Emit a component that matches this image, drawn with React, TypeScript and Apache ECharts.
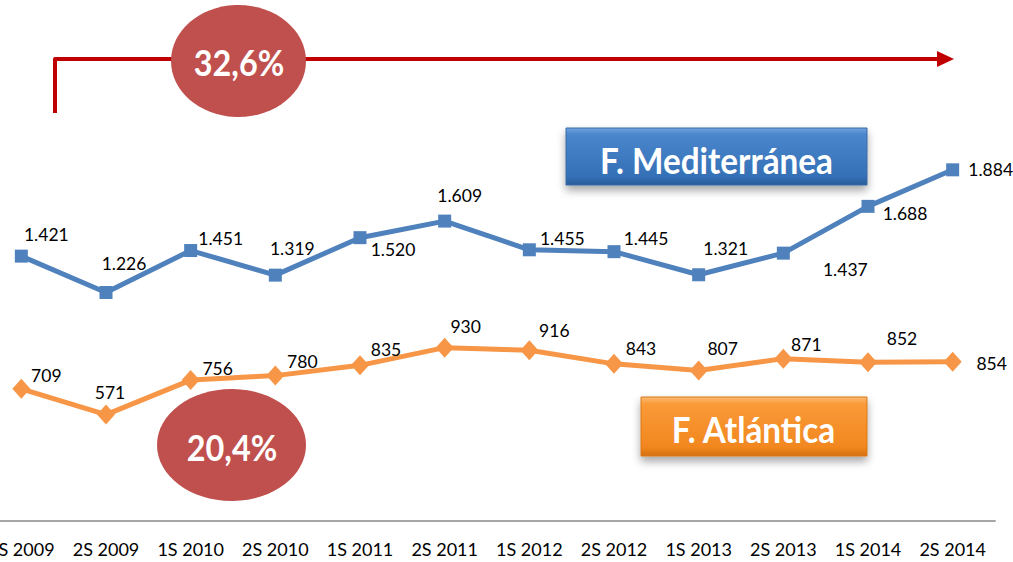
import React, { useEffect, useRef } from "react";
import * as echarts from "echarts";

const categories = ["1S 2009", "2S 2009", "1S 2010", "2S 2010", "1S 2011", "2S 2011", "1S 2012", "2S 2012", "1S 2013", "2S 2013", "1S 2014", "2S 2014"];
const mediterranea = [1421, 1226, 1451, 1319, 1520, 1609, 1455, 1445, 1321, 1437, 1688, 1884];
const atlantica = [709, 571, 756, 780, 835, 930, 916, 843, 807, 871, 852, 854];

// label offsets (style only)
const medOffsets: [number, number][] = [[25, -22], [18, -29], [30, -12], [17, -27], [33, 12], [15, -26], [33, -11], [32, -13], [27, -26], [62, 16], [37, 7], [38, 0]];
const atlOffsets: [number, number][] = [[25, -13], [4, -22], [27, -12], [27, -14], [26, -16], [21, -21], [25, -20], [27, -15], [24, -22], [23, -14], [34, -24], [39, 2]];

const growthMed = "32,6%";
const growthAtl = "20,4%";
const nameMed = "F. Mediterránea";
const nameAtl = "F. Atlántica";

const fmt = (v: number) => String(v).replace(/\B(?=(\d{3})+(?!\d))/g, ".");

const FONT = "Lato, 'Open Sans', sans-serif";
const S = 21; // chart canvas shifted left by this many px

export default function App() {
  const ref = useRef<HTMLDivElement>(null);
  useEffect(() => {
    if (!ref.current) return;
    const chart = echarts.init(ref.current, undefined, { renderer: "svg" });
    const labelBase = {
      show: true,
      position: "inside" as const,
      align: "center",
      verticalAlign: "middle",
      color: "#000",
      fontSize: 17.5,
      fontFamily: FONT,
      formatter: (p: any) => fmt(p.value),
    };
    const txt = (x: number, y: number, text: string, size: number) => ({
      type: "text",
      x: x + S,
      y,
      scaleX: 0.9,
      style: { text, textAlign: "center", textVerticalAlign: "middle", fill: "#fff", fontSize: size, fontWeight: "bold", fontFamily: FONT },
      z: 12,
    });
    chart.setOption({
      animation: false,
      backgroundColor: "#fff",
      grid: { left: 0, right: 18, top: 55, bottom: 41, containLabel: false },
      xAxis: {
        type: "category",
        data: categories,
        boundaryGap: true,
        axisLine: { lineStyle: { color: "#a6a6a6", width: 2 } },
        axisTick: { show: false },
        axisLabel: { color: "#000", fontSize: 18, fontFamily: FONT, margin: 19, interval: 0 },
      },
      yAxis: { type: "value", min: 0, max: 2500, show: false, splitLine: { show: false } },
      series: [
        {
          type: "line",
          name: nameMed,
          data: mediterranea.map((v, i) => ({ value: v, label: { offset: medOffsets[i] } })),
          symbol: "rect",
          symbolSize: 13,
          lineStyle: { color: "#4f81bd", width: 5 },
          itemStyle: { color: "#4f81bd" },
          label: labelBase,
          z: 3,
        },
        {
          type: "line",
          name: nameAtl,
          data: atlantica.map((v, i) => ({ value: v, label: { offset: atlOffsets[i] } })),
          symbol: "diamond",
          symbolSize: [18, 20],
          lineStyle: { color: "#f79646", width: 5 },
          itemStyle: { color: "#f79646" },
          label: labelBase,
          z: 3,
        },
      ],
      graphic: [
        {
          type: "polyline",
          shape: { points: [[55 + S, 113], [55 + S, 59], [940 + S, 59]] },
          style: { stroke: "#c00000", lineWidth: 4, fill: null, lineJoin: "round" },
          z: 10,
        },
        {
          type: "polygon",
          shape: { points: [[937 + S, 51], [954 + S, 59], [937 + S, 67]] },
          style: { fill: "#c00000" },
          z: 10,
        },
        {
          type: "ellipse",
          shape: { cx: 238.5 + S, cy: 61, rx: 67.5, ry: 56 },
          style: { fill: "#c0504d" },
          z: 11,
        },
        txt(239, 62, growthMed, 36),
        {
          type: "ellipse",
          shape: { cx: 231.5 + S, cy: 445, rx: 74.5, ry: 56 },
          style: { fill: "#c0504d" },
          z: 11,
        },
        txt(232, 447, growthAtl, 36),
        {
          type: "rect",
          shape: { x: 566 + S, y: 128, width: 301, height: 57 },
          style: {
            fill: new echarts.graphic.LinearGradient(0, 0, 0, 1, [
              { offset: 0, color: "#6fa3e0" },
              { offset: 0.12, color: "#4a86cc" },
              { offset: 0.85, color: "#3470b6" },
              { offset: 1, color: "#2a5c99" },
            ]),
            stroke: "#3a6aa5",
            lineWidth: 1,
            shadowBlur: 8,
            shadowOffsetY: 5,
            shadowColor: "rgba(0,0,0,0.35)",
          },
          z: 11,
        },
        txt(716.5, 159, nameMed, 37),
        {
          type: "rect",
          shape: { x: 641 + S, y: 397, width: 226, height: 59 },
          style: {
            fill: new echarts.graphic.LinearGradient(0, 0, 0, 1, [
              { offset: 0, color: "#fdbb72" },
              { offset: 0.12, color: "#fa9a38" },
              { offset: 0.85, color: "#f2871f" },
              { offset: 1, color: "#d46f10" },
            ]),
            stroke: "#d9781c",
            lineWidth: 1,
            shadowBlur: 8,
            shadowOffsetY: 5,
            shadowColor: "rgba(0,0,0,0.35)",
          },
          z: 11,
        },
        txt(753.5, 428, nameAtl, 37),
      ],
    });
    return () => chart.dispose();
  }, []);
  return <div ref={ref} style={{ position: "fixed", left: -S, top: 0, width: 1013 + S, height: 562 }} />;
}
